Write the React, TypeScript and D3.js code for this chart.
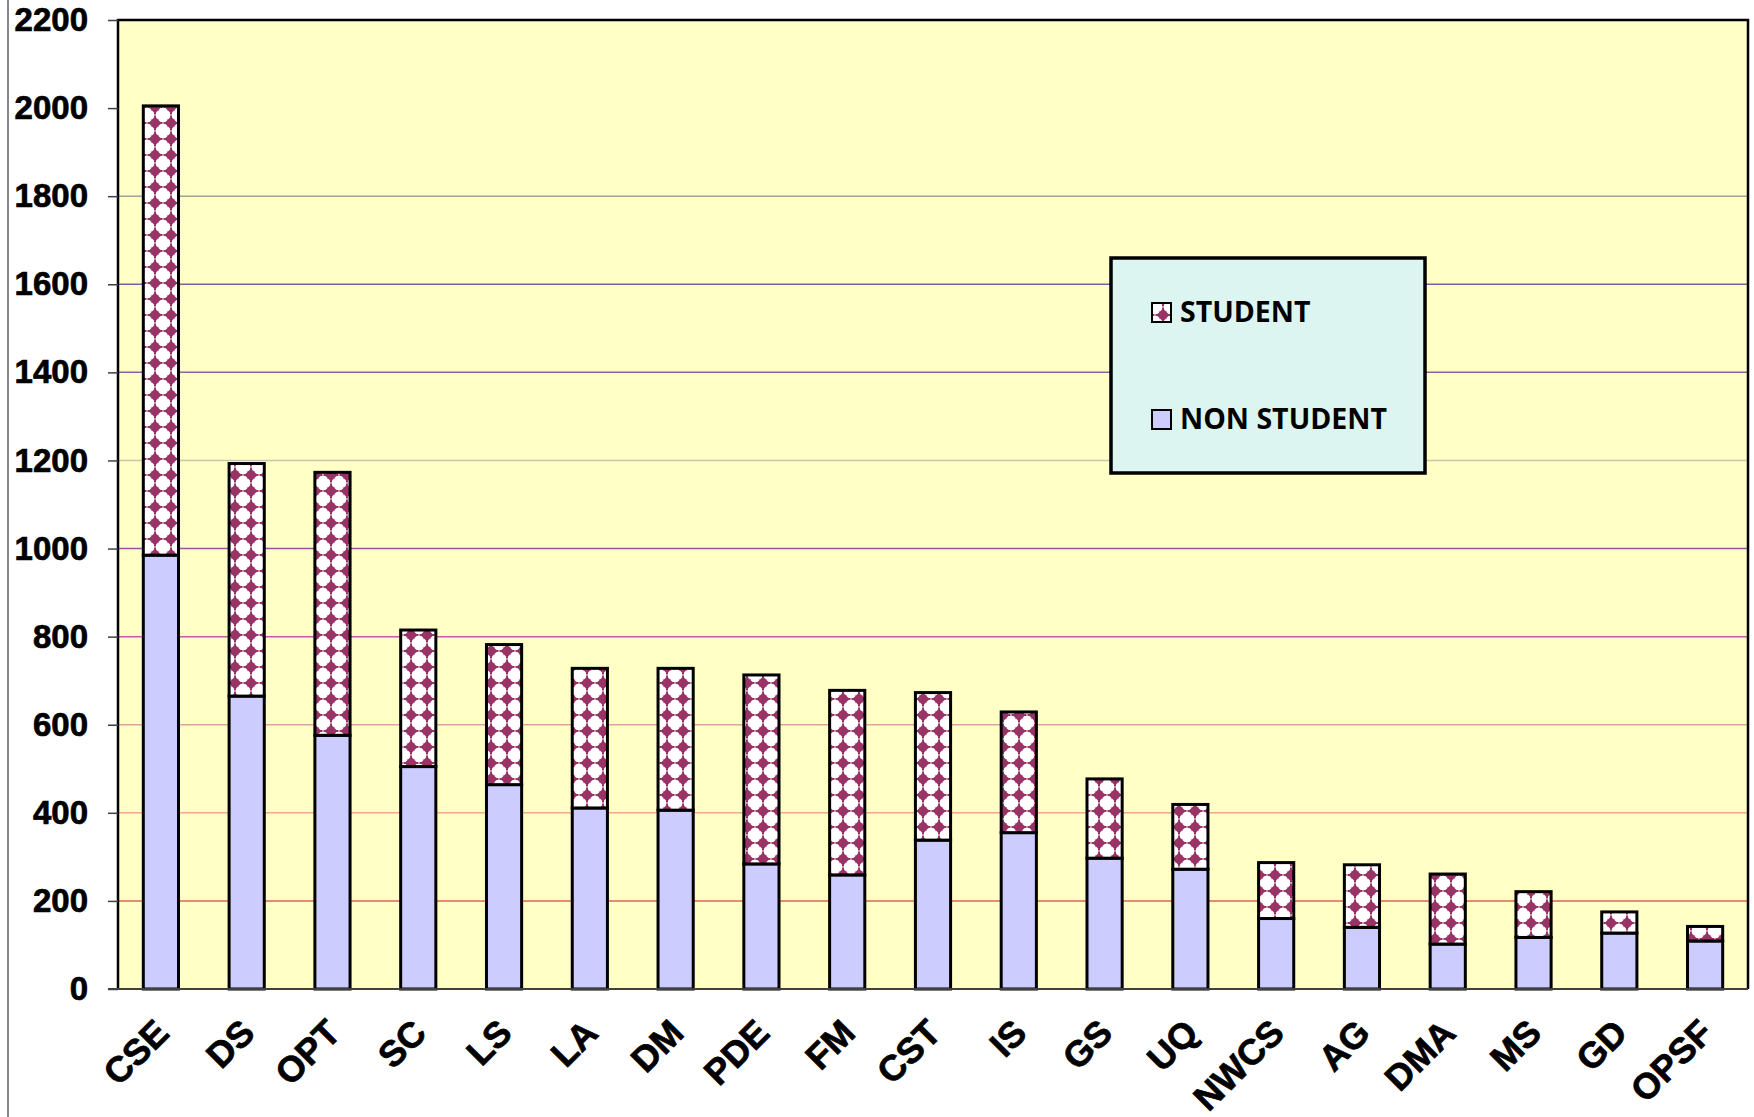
import React, { useEffect, useRef } from 'react';
import * as d3 from 'd3';

const categories = ['CSE', 'DS', 'OPT', 'SC', 'LS', 'LA', 'DM', 'PDE', 'FM', 'CST', 'IS', 'GS', 'UQ', 'NWCS', 'AG', 'DMA', 'MS', 'GD', 'OPSF'];
const nonStudent = [985, 665, 576, 505, 464, 411, 406, 284, 259, 338, 355, 297, 272, 160, 140, 102, 117, 127, 109];
const student = [1020, 528, 597, 310, 318, 317, 322, 429, 419, 335, 274, 180, 147, 127, 142, 159, 104, 48, 33];
const yTicks = [0, 200, 400, 600, 800, 1000, 1200, 1400, 1600, 1800, 2000, 2200];
const seriesNames = ['STUDENT', 'NON STUDENT'];

// gridline colours, bottom to top (Excel gradient look)
const gridColors = ['#F0B060', '#E06060', '#F0A890', '#E0A0A8', '#C858A8', '#A050A0', '#C8C8A8', '#9060A0', '#8060A0', '#A0A0A0'];

export default function App() {
  const svgRef = useRef<SVGSVGElement>(null);

  useEffect(() => {
    if (!svgRef.current) return;
    const width = 1754;
    const height = 1117;
    const margin = { top: 20, right: 6, bottom: 128, left: 118 };

    const svg = d3.select(svgRef.current);
    svg.selectAll('*').remove();

    const defs = svg.append('defs');
    const pat = defs.append('pattern')
      .attr('id', 'diam')
      .attr('patternUnits', 'userSpaceOnUse')
      .attr('x', 3).attr('y', 3)
      .attr('width', 16).attr('height', 16);
    pat.append('rect').attr('width', 16).attr('height', 16).attr('fill', '#fff');
    pat.append('path')
      .attr('d', 'M8,1.5 L14.5,8 L8,14.5 L1.5,8 Z M4.3,4.3 h7.4 v7.4 h-7.4 Z M7,0.5 h2 v2 h-2 Z M7,13.5 h2 v2 h-2 Z M0.5,7 h2 v2 h-2 Z M13.5,7 h2 v2 h-2 Z')
      .attr('fill', '#993366');

    const x = d3.scaleBand()
      .domain(categories)
      .range([margin.left, width - margin.right])
      .padding(0);

    const y = d3.scaleLinear()
      .domain([0, 2200])
      .range([height - margin.bottom, margin.top]);

    const barW = x.step() * 0.41;

    // left page line
    svg.append('line')
      .attr('x1', 8).attr('x2', 8).attr('y1', 0).attr('y2', height)
      .attr('stroke', '#888').attr('stroke-width', 2);

    // plot background
    svg.append('rect')
      .attr('x', margin.left).attr('y', margin.top)
      .attr('width', width - margin.right - margin.left)
      .attr('height', height - margin.bottom - margin.top)
      .attr('fill', '#FFFFC6');

    // grid
    svg.append('g')
      .selectAll('line')
      .data(yTicks.slice(1, -1))
      .enter()
      .append('line')
      .attr('x1', margin.left).attr('x2', width - margin.right)
      .attr('y1', d => y(d)).attr('y2', d => y(d))
      .attr('stroke', (d, i) => gridColors[i + 1])
      .attr('stroke-width', 1.5);

    // stacked bars
    const rows = categories.map((c, i) => ({ cat: c, ns: nonStudent[i], st: student[i] }));
    const stack = d3.stack<any>().keys(['ns', 'st'])(rows);

    stack.forEach(layer => {
      svg.append('g')
        .selectAll('rect')
        .data(layer)
        .enter()
        .append('rect')
        .attr('x', d => x(d.data.cat)! + (x.step() - barW) / 2)
        .attr('y', d => y(d[1]))
        .attr('width', barW)
        .attr('height', d => y(d[0]) - y(d[1]))
        .attr('fill', layer.key === 'ns' ? '#CCCCFF' : 'url(#diam)')
        .attr('stroke', '#000')
        .attr('stroke-width', 3);
    });

    // frame
    svg.append('path')
      .attr('d', `M${margin.left},${y(0)} V${margin.top} H${width - margin.right} V${y(0)}`)
      .attr('fill', 'none').attr('stroke', '#000').attr('stroke-width', 2.5);
    svg.append('line')
      .attr('x1', margin.left - 10).attr('x2', width - margin.right)
      .attr('y1', y(0)).attr('y2', y(0))
      .attr('stroke', '#404040').attr('stroke-width', 2);

    const boldText = (sel: any, size: number) => sel
      .style('font-family', "'Liberation Sans', Arial, sans-serif")
      .style('font-weight', 'bold')
      .style('font-size', `${size}px`)
      .style('fill', '#000')
      .style('stroke', '#000')
      .style('stroke-width', '0.7px');

    // y axis
    const yAxis = svg.append('g')
      .attr('transform', `translate(${margin.left},0)`)
      .call(d3.axisLeft(y).tickValues(yTicks).tickSize(10).tickPadding(20).tickFormat(d3.format('d')));
    yAxis.select('.domain').remove();
    yAxis.selectAll('.tick line').attr('stroke', '#404040').attr('stroke-width', 1.5);
    boldText(yAxis.selectAll('text'), 33);

    // x labels
    boldText(svg.append('g')
      .selectAll('text')
      .data(categories)
      .enter()
      .append('text')
      .attr('transform', d => `translate(${x(d)! + x.step() / 2 + 10},${y(0) + 46}) rotate(-45)`)
      .attr('text-anchor', 'end')
      .text(d => d), 36);

    // legend
    const lg = svg.append('g');
    lg.append('rect')
      .attr('x', 1111).attr('y', 258).attr('width', 314).attr('height', 215)
      .attr('fill', '#DDF5F0').attr('stroke', '#000').attr('stroke-width', 3.5);
    seriesNames.forEach((name, i) => {
      const yy = 303 + i * 107;
      lg.append('rect')
        .attr('x', 1152).attr('y', yy).attr('width', 19).attr('height', 19)
        .attr('fill', i === 0 ? 'url(#diam)' : '#CCCCFF')
        .attr('stroke', '#000').attr('stroke-width', 2);
      lg.append('text')
        .attr('x', 1180).attr('y', yy + 19)
        .style('font-family', "'Open Sans', sans-serif")
        .style('font-weight', 'bold')
        .style('font-size', '28.5px')
        .text(name);
    });
  }, []);

  return (
    <svg
      ref={svgRef}
      width={1754}
      height={1117}
      style={{ position: 'absolute', left: 0, top: 0, background: '#fff' }}
    />
  );
}
